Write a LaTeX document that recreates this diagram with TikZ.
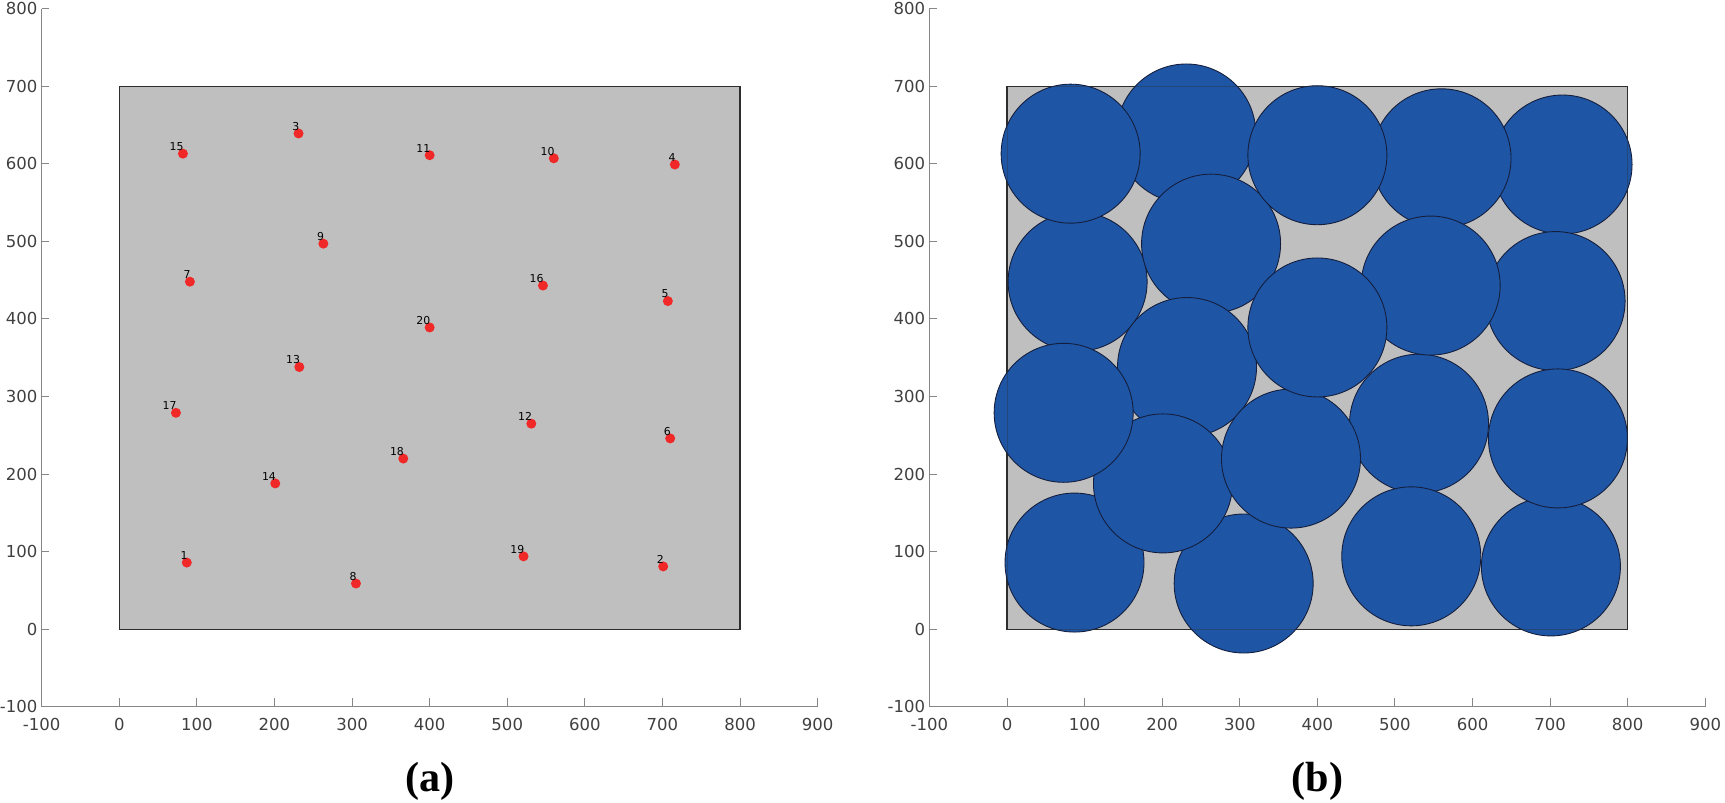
\documentclass[tikz,border=0pt]{standalone}
\usepackage{fontspec}
\setmainfont{Liberation Serif}
\newfontfamily\axisfont{DejaVu Sans}
\definecolor{axisgray}{RGB}{135, 135, 135}
\definecolor{ticktext}{RGB}{64, 64, 64}
\definecolor{regiongray}{RGB}{191, 191, 191}
\definecolor{regionedge}{RGB}{45, 45, 45}
\definecolor{sensorred}{RGB}{240, 40, 40}
\definecolor{coverblue}{RGB}{30, 85, 165}
\definecolor{coveredge}{RGB}{20, 30, 60}
\usepackage{tikz}
\usetikzlibrary{positioning}

\tikzset{
  axisline/.style={draw=axisgray, line width=0.55pt},
  ticklab/.style={font=\axisfont\fontsize{9.4}{9.4}\selectfont, text=ticktext, inner sep=0pt},
  region/.style={fill=regiongray, draw=regionedge, line width=0.65pt},
  sensor/.style={circle, fill=sensorred, inner sep=0pt, minimum size=0.2cm},
  sensorlab/.style={font=\axisfont\fontsize{6.2}{6.2}\selectfont, inner sep=0pt, anchor=south east},
  coverdisk/.style={circle, draw=coveredge, fill=coverblue, line width=0.5pt, inner sep=0pt, minimum size=2.78cm},
  panelcap/.style={font=\bfseries\fontsize{24}{24}\selectfont, inner sep=0pt}
}

% sensor positions: index/x/y
\newcommand{\sensorlist}{1/87/86, 2/701/81, 3/231/639, 4/716/599, 5/707/423,
  6/710/246, 7/91/448, 8/305/59, 9/263/497, 10/560/607, 11/400/611, 12/531/265,
  13/232/338, 14/201/188, 15/82/613, 16/546/443, 17/73/279, 18/366/220,
  19/521/94, 20/400/389}

% axes with ticks, #1 = node prefix
\newcommand{\plotaxes}[1]{%
  \draw[axisline] (-100,800) -- (-100,-100) -- (900,-100);
  \foreach \v in {0,100,...,800} {
    \draw[axisline] (-100,\v) -- (-90,\v);
  }
  \foreach \v in {-100,0,...,800} {
    \node[ticklab, anchor=east] (#1y\v) at (-105,\v) {\v};
  }
  \foreach \u in {0,100,...,900} {
    \draw[axisline] (\u,-100) -- (\u,-88);
  }
  \foreach \u in {-100,0,...,900} {
    \node[ticklab] (#1x\u) at (\u,-122.7) {\u};
  }
}

\begin{document}
\begin{tikzpicture}
  \useasboundingbox (0,0) rectangle (34.5,16.06);

  % (a) sensor positions
  \begin{scope}[shift={(2.386cm,3.474cm)}, x=0.01552cm, y=0.01552cm]
    \plotaxes{a}
    \draw[region] (0,0) rectangle (800,700);
    \foreach \i/\px/\py in \sensorlist {
      \node[sensor] (a\i) at (\px,\py) {};
    }
    \foreach \i/\px/\py in \sensorlist {
      \node[sensorlab] (la\i) at ([shift={(0.02cm,0.054cm)}]a\i.center) {\i};
    }
    \node[panelcap] (capa) at (400,-195.5) {(a)};
  \end{scope}

  % (b) sensing disks
  \begin{scope}[shift={(20.14cm,3.474cm)}, x=0.01552cm, y=0.01552cm]
    \plotaxes{b}
    \draw[region] (0,0) rectangle (800,700);
    \foreach \i/\px/\py in \sensorlist {
      \node[coverdisk] (b\i) at (\px,\py) {};
    }
    \draw[regionedge, line width=0.5pt, opacity=0.35] (0,0) rectangle (800,700);
    \node[panelcap] (capb) at (400,-195.5) {(b)};
  \end{scope}
\end{tikzpicture}
\end{document}
